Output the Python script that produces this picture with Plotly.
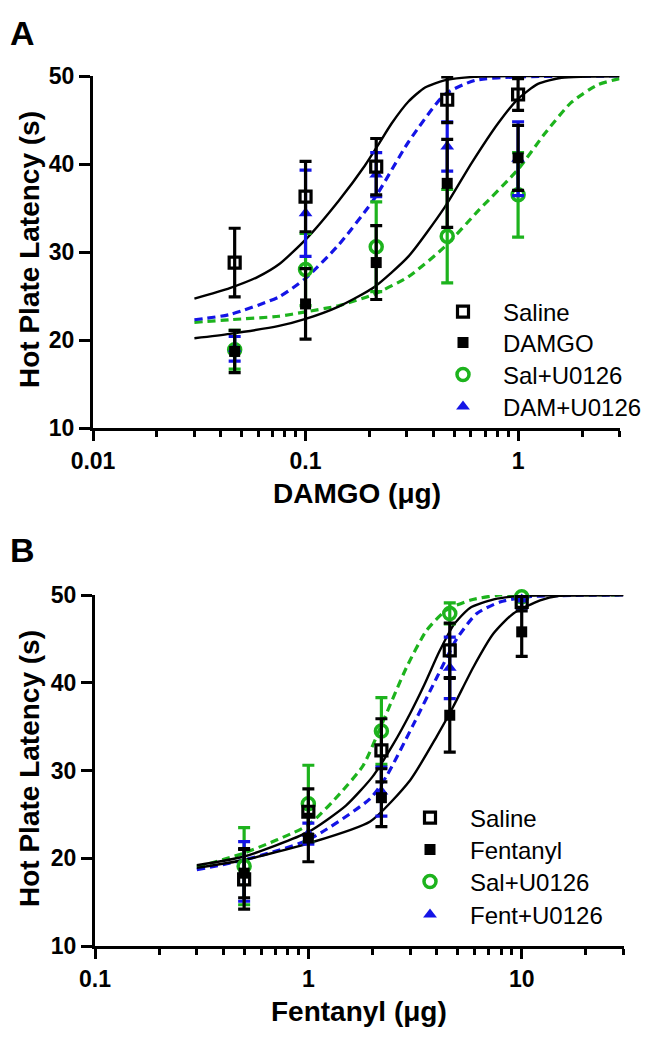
import plotly.graph_objects as go

# ---------------- Panel A: DAMGO ----------------
damgo_dose = [0.0464, 0.1, 0.215, 0.464, 1.0]
a_saline = [28.8, 36.3, 39.7, 47.3, 47.9]
a_saline_err = [3.9, 4.0, 3.2, 2.6, 1.8]
a_damgo = [18.7, 24.1, 28.8, 37.8, 40.7]
a_damgo_err = [2.4, 4.0, 4.2, 5.0, 3.7]
a_salu = [18.9, 28.0, 30.6, 31.8, 36.5]
a_salu_err = [2.2, 4.1, 5.1, 5.3, 4.8]
a_damu = [19.0, 34.4, 38.8, 42.0, 40.6]
a_damu_err = [1.4, 4.9, 2.5, 2.8, 4.2]

# fitted curves
a_fit_saline_x = [0.03, 0.044, 0.06, 0.075, 0.1, 0.143, 0.19, 0.22, 0.254, 0.305, 0.365, 0.45, 0.62, 1.0, 3.0]
a_fit_saline_y = [24.7, 25.9, 27.2, 28.6, 31.4, 35.8, 39.8, 42.2, 44.6, 47.1, 48.7, 49.5, 49.9, 50.0, 50.0]
a_fit_damgo_x = [0.03, 0.044, 0.075, 0.1, 0.143, 0.21, 0.305, 0.452, 0.604, 0.804, 1.0, 1.24, 1.6, 3.0]
a_fit_damgo_y = [20.2, 20.7, 21.6, 22.4, 23.8, 26.0, 29.5, 35.1, 40.1, 44.6, 47.4, 49.1, 49.8, 50.0]
a_fit_salu_x = [0.03, 0.044, 0.075, 0.1, 0.143, 0.21, 0.305, 0.452, 0.65, 1.0, 1.33, 1.78, 2.37, 3.0]
a_fit_salu_y = [22.0, 22.3, 22.7, 23.2, 23.9, 25.2, 27.2, 30.6, 34.7, 39.4, 43.4, 47.0, 49.0, 49.7]
a_fit_damu_x = [0.03, 0.044, 0.075, 0.1, 0.143, 0.21, 0.305, 0.452, 0.626, 1.0, 3.0]
a_fit_damu_y = [22.3, 22.9, 24.9, 27.0, 30.8, 36.0, 42.5, 47.9, 49.5, 49.9, 50.0]

# ---------------- Panel B: Fentanyl ----------------
fent_dose = [0.5, 1.0, 2.2, 4.6, 10.0]
b_saline = [17.6, 25.3, 32.3, 43.7, 49.2]
b_saline_err = [3.4, 2.6, 3.6, 3.1, 1.0]
b_fent = [18.3, 22.3, 26.9, 36.3, 45.8]
b_fent_err = [2.8, 2.7, 3.3, 4.2, 2.8]
b_salu = [19.1, 26.2, 34.5, 47.9, 49.8]
b_salu_err = [4.4, 4.4, 3.8, 1.2, 0.4]
b_fentu = [18.5, 22.8, 27.6, 41.7, 49.5]
b_fentu_err = [3.4, 1.2, 2.8, 3.5, 1.0]

b_fit_saline_x = [0.3, 0.5, 1.0, 1.5, 2.0, 2.5, 3.0, 3.5, 4.1, 4.8, 5.7, 7.4, 10.0, 30.0]
b_fit_saline_y = [19.2, 20.2, 23.0, 26.0, 29.3, 33.0, 36.5, 39.8, 43.5, 46.6, 48.5, 49.5, 49.9, 50.0]
b_fit_fent_x = [0.3, 0.5, 1.0, 1.95, 3.0, 4.0, 4.78, 5.94, 7.37, 9.14, 12.2, 15.0, 30.0]
b_fit_fent_y = [18.9, 19.8, 21.7, 24.2, 28.9, 33.9, 37.3, 41.8, 45.6, 47.9, 49.4, 49.9, 50.0]
b_fit_salu_x = [0.3, 0.5, 1.0, 1.41, 1.81, 2.23, 2.89, 3.59, 4.45, 5.72, 7.9, 30.0]
b_fit_salu_y = [19.0, 20.6, 23.8, 27.4, 30.6, 35.5, 41.8, 46.0, 48.3, 49.4, 50.0, 50.0]
b_fit_fentu_x = [0.3, 0.5, 1.0, 1.95, 2.33, 3.1, 4.0, 4.96, 6.16, 7.9, 10.6, 30.0]
b_fit_fentu_y = [18.7, 19.8, 22.1, 26.8, 29.4, 35.2, 40.6, 45.0, 47.9, 49.2, 49.8, 50.0]

legend_a = ["Saline", "DAMGO", "Sal+U0126", "DAM+U0126"]
legend_b = ["Saline", "Fentanyl", "Sal+U0126", "Fent+U0126"]

a_xticks = [0.01, 0.1, 1]
a_xticktext = ["0.01", "0.1", "1"]
b_xticks = [0.1, 1, 10]
b_xticktext = ["0.1", "1", "10"]
y_ticks = [10, 20, 30, 40, 50]

BLACK = "#000000"
GREEN = "#1DB31D"
BLUE = "#1414E6"
FONT = "Liberation Sans, Arial, sans-serif"

# the page body has an 8px margin: the figure is placed at (8, 8)
OFF = 8
W, H = 658 - 2 * OFF, 1050 - 2 * OFF


def px_x(p):
    return (p - OFF) / W


def px_y(p):
    return 1 - (p - OFF) / H


fig = go.Figure()


def curve(x, y, color, dash, width, xa, ya):
    fig.add_trace(go.Scatter(
        x=x, y=y, mode="lines", line=dict(color=color, width=width, dash=dash, shape="spline", smoothing=0.6),
        showlegend=False, hoverinfo="skip", xaxis=xa, yaxis=ya, cliponaxis=False))


def points(x, y, err, name, symbol, color, size, lw, fill, xa, ya, legend):
    fig.add_trace(go.Scatter(
        x=x, y=y, mode="markers", name=name,
        error_y=dict(type="data", array=err, visible=True, color=color, thickness=3.2, width=6),
        marker=dict(symbol=symbol, size=size, color=fill, line=dict(color=color, width=lw)),
        xaxis=xa, yaxis=ya, legend=legend, cliponaxis=False))


# Panel A curves
curve(a_fit_salu_x, a_fit_salu_y, GREEN, "8px,5px", 3.2, "x", "y")
curve(a_fit_damu_x, a_fit_damu_y, BLUE, "8px,5px", 3.2, "x", "y")
curve(a_fit_saline_x, a_fit_saline_y, BLACK, "solid", 2.4, "x", "y")
curve(a_fit_damgo_x, a_fit_damgo_y, BLACK, "solid", 2.4, "x", "y")
# Panel A points
points(damgo_dose, a_salu, a_salu_err, legend_a[2], "circle-open", GREEN, 12, 3.5, GREEN, "x", "y", "legend3")
points(damgo_dose, a_damu, a_damu_err, legend_a[3], "triangle-up", BLUE, 12, 0, BLUE, "x", "y", "legend4")
points(damgo_dose, a_damgo, a_damgo_err, legend_a[1], "square", BLACK, 11, 0, BLACK, "x", "y", "legend2")
points(damgo_dose, a_saline, a_saline_err, legend_a[0], "square-open", BLACK, 11, 3.2, BLACK, "x", "y", "legend")

# Panel B curves
curve(b_fit_salu_x, b_fit_salu_y, GREEN, "8px,5px", 3.2, "x2", "y2")
curve(b_fit_fentu_x, b_fit_fentu_y, BLUE, "8px,5px", 3.2, "x2", "y2")
curve(b_fit_saline_x, b_fit_saline_y, BLACK, "solid", 2.4, "x2", "y2")
curve(b_fit_fent_x, b_fit_fent_y, BLACK, "solid", 2.4, "x2", "y2")
# Panel B points
points(fent_dose, b_salu, b_salu_err, legend_b[2], "circle-open", GREEN, 12, 3.5, GREEN, "x2", "y2", "legend7")
points(fent_dose, b_fentu, b_fentu_err, legend_b[3], "triangle-up", BLUE, 12, 0, BLUE, "x2", "y2", "legend8")
points(fent_dose, b_fent, b_fent_err, legend_b[1], "square", BLACK, 11, 0, BLACK, "x2", "y2", "legend6")
points(fent_dose, b_saline, b_saline_err, legend_b[0], "square-open", BLACK, 11, 3.2, BLACK, "x2", "y2", "legend5")

tickfont = dict(family=FONT, size=23, color=BLACK, weight="bold")

a_minor = [m * d for d in (0.01, 0.1, 1) for m in range(2, 10) if m * d <= 3.0001]
b_minor = [m * d for d in (0.1, 1, 10) for m in range(2, 10) if m * d <= 30.001]

common_x = dict(type="log", showline=True, linecolor=BLACK, linewidth=3, ticks="outside",
                ticklen=10, tickwidth=3, tickcolor=BLACK, showgrid=False, zeroline=False,
                tickfont=tickfont, tickmode="array", automargin=False)
common_y = dict(showline=True, linecolor=BLACK, linewidth=3, ticks="outside", ticklen=11,
                tickwidth=3, tickcolor=BLACK, showgrid=False, zeroline=False, range=[10, 50],
                tickvals=y_ticks, tickfont=tickfont, automargin=False)

layout = dict(
    width=W, height=H, margin=dict(l=0, r=0, t=0, b=0),
    paper_bgcolor="white", plot_bgcolor="white", showlegend=True,
    xaxis=dict(common_x, domain=[px_x(93), px_x(619.5)], range=[-2, 0.4771], anchor="y",
               tickvals=a_xticks, ticktext=a_xticktext,
               minor=dict(tickmode="array", tickvals=a_minor, ticks="outside", ticklen=6,
                          tickwidth=2.5, tickcolor=BLACK)),
    yaxis=dict(common_y, domain=[px_y(428), px_y(76)], anchor="x"),
    xaxis2=dict(common_x, domain=[px_x(95), px_x(623.5)], range=[-1, 1.4771], anchor="y2",
                tickvals=b_xticks, ticktext=b_xticktext,
                minor=dict(tickmode="array", tickvals=b_minor, ticks="outside", ticklen=6,
                           tickwidth=2.5, tickcolor=BLACK)),
    yaxis2=dict(common_y, domain=[px_y(946), px_y(595)], anchor="x2"),
)

# one legend box per entry so that each row sits where it does in the figure
legend_rows = [("legend", 423, 312), ("legend2", 423, 343), ("legend3", 423, 375), ("legend4", 423, 407),
               ("legend5", 390, 818), ("legend6", 390, 850), ("legend7", 390, 882), ("legend8", 390, 915)]
for key, lx, ly in legend_rows:
    layout[key] = dict(x=px_x(lx), y=px_y(ly), xanchor="left", yanchor="middle",
                       font=dict(family=FONT, size=24, color=BLACK), itemwidth=70,
                       bgcolor="rgba(0,0,0,0)", borderwidth=0)
fig.update_layout(**layout)

ann_font_title = dict(family=FONT, size=28, color=BLACK, weight="bold")
letter_font = dict(family=FONT, size=34, color=BLACK, weight="bold")
annotations = [
    dict(text="A", x=0, y=px_y(33), xref="paper", yref="paper", xanchor="left", yanchor="middle",
         showarrow=False, font=letter_font),
    dict(text="B", x=0, y=px_y(550), xref="paper", yref="paper", xanchor="left", yanchor="middle",
         showarrow=False, font=letter_font),
    dict(text="Hot Plate Latency (s)", x=px_x(29), y=px_y(250), xref="paper", yref="paper",
         xanchor="center", yanchor="middle", textangle=-90, showarrow=False, font=ann_font_title),
    dict(text="Hot Plate Latency (s)", x=px_x(29), y=px_y(769), xref="paper", yref="paper",
         xanchor="center", yanchor="middle", textangle=-90, showarrow=False, font=ann_font_title),
    dict(text="DAMGO (\u03bcg)", x=px_x(357), y=px_y(494), xref="paper", yref="paper",
         xanchor="center", yanchor="middle", showarrow=False, font=ann_font_title),
    dict(text="Fentanyl (\u03bcg)", x=px_x(359), y=px_y(1011), xref="paper", yref="paper",
         xanchor="center", yanchor="middle", showarrow=False, font=ann_font_title),
]
fig.update_layout(annotations=annotations)

fig.write_html("out.html")
